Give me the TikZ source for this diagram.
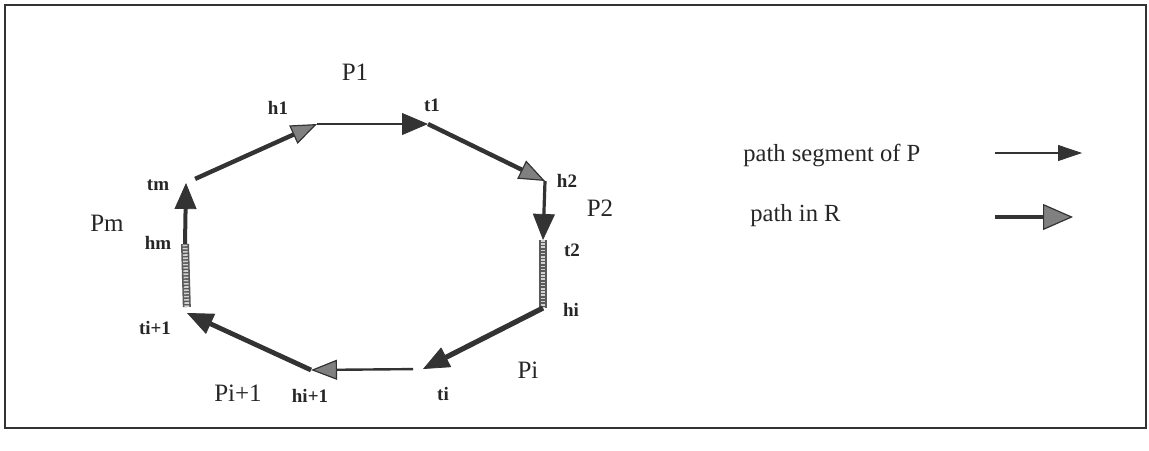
\documentclass[tikz,border=0pt]{standalone}
\usepackage{fontspec}
\setmainfont{Liberation Serif}
\usetikzlibrary{arrows.meta}

\begin{document}
\begin{tikzpicture}[
    x=0.5pt, y=-0.5pt,
    ink/.style={draw=black!80, line cap=butt},
    darkhead/.style={-{Triangle[length=13pt, width=11pt, fill=black!80, line width=0.4pt]}},
    grayhead/.style={-{Triangle[length=13pt, width=10pt, fill=black!50, line width=0.6pt]}},
    segP/.style={ink, darkhead, line width=1pt},
    inR/.style={ink, grayhead, line width=2.2pt},
    gapbar/.style={
        draw=black!65, line width=4pt,
        postaction={draw=gray!35, line width=2.4pt, dash pattern=on 0.8pt off 0.8pt}
    },
    vlabel/.style={font=\fontsize{9.5}{11}\selectfont\bfseries, text=black!85, inner sep=1pt},
    plabel/.style={font=\fontsize{12.5}{14}\selectfont, text=black!85, inner sep=1pt},
    legtext/.style={font=\fontsize{12.3}{14}\selectfont, text=black!85, anchor=west, inner sep=0pt}
]
    \useasboundingbox (0,0) rectangle (1149,450);

    % outer frame
    \draw[black!80, line width=1.3pt] (5,5) rectangle (1146,428);

    % heads and tails of the cycle
    \coordinate (tm)  at (186,183);
    \coordinate (h1)  at (317,124);
    \coordinate (t1)  at (428,124);
    \coordinate (h2)  at (545,181);
    \coordinate (t2)  at (543,240);
    \coordinate (hi)  at (543,308);
    \coordinate (ti)  at (423,369);
    \coordinate (hi1) at (311,370);
    \coordinate (ti1) at (187,313);
    \coordinate (hm)  at (185,244);

    % segments
    \draw[inR, shorten <=5pt] (tm) -- (h1);
    \draw[segP] (h1) -- (t1);
    \draw[inR] (t1) -- (h2);
    \draw[segP, line width=1.6pt] (h2) -- (t2);
    \draw[gapbar] (t2) -- (hi);
    \draw[segP, line width=2.6pt] (hi) -- (ti);
    \draw[segP, line width=2.4pt] (hi1) -- (ti1);
    \draw[inR, line width=1.2pt, shorten <=5pt] (ti) -- (hi1);
    \draw[gapbar, shorten <=3pt] (ti1) -- (hm);
    \draw[segP, line width=2pt] (hm) -- (tm);

    % vertex labels
    \node[vlabel] (lh1)  at (278,108) {h1};
    \node[vlabel] (lt1)  at (432,105) {t1};
    \node[vlabel] (lh2)  at (567,181) {h2};
    \node[vlabel] (lt2)  at (572,250) {t2};
    \node[vlabel] (lhi)  at (571,310) {hi};
    \node[vlabel] (lti)  at (443,394) {ti};
    \node[vlabel] (lhi1) at (310,396) {hi+1};
    \node[vlabel] (lti1) at (155,328) {ti+1};
    \node[vlabel] (lhm)  at (158,243) {hm};
    \node[vlabel] (ltm)  at (158,185) {tm};

    % path labels
    \node[plabel] (P1)  at (355,72)  {P1};
    \node[plabel] (P2)  at (600,208) {P2};
    \node[plabel] (Pi)  at (528,370) {Pi};
    \node[plabel] (Pi1) at (238,393) {Pi+1};
    \node[plabel] (Pm)  at (107,223) {Pm};

    % legend
    \node[legtext] (legP) at (743,155) {path segment of P};
    \node[legtext] (legR) at (750,216) {path in R};
    \coordinate (pa) at (995,153);
    \coordinate (pb) at (1082,153);
    \coordinate (ra) at (995,217);
    \coordinate (rb) at (1073,217);
    \draw[ink, line width=1pt, -{Triangle[length=12pt, width=8pt, fill=black!80, line width=0.4pt]}] (pa) -- (pb);
    \draw[ink, line width=2pt, -{Triangle[length=15pt, width=13pt, fill=black!50, line width=0.6pt]}] (ra) -- (rb);

\end{tikzpicture}
\end{document}
